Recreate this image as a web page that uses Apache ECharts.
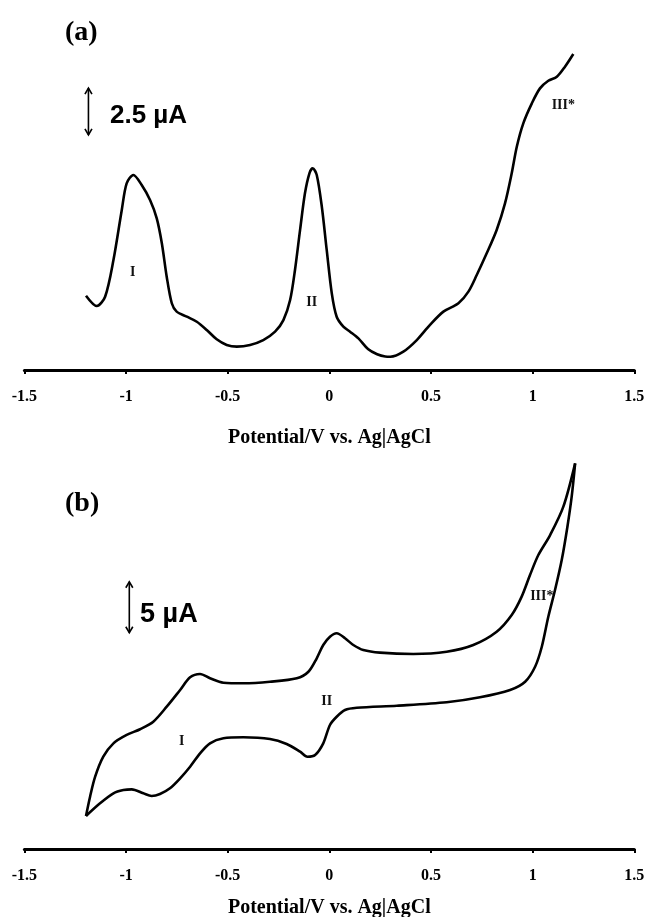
<!DOCTYPE html>
<html>
<head>
<meta charset="utf-8">
<script src="https://cdn.jsdelivr.net/npm/echarts@6/dist/echarts.min.js"></script>
<style>
  html, body { margin: 0; padding: 0; background: #fff; }
  #main { width: 646px; height: 917px; }
</style>
</head>
<body>
<div id="main"></div>
<script>
// Potential axis (V vs. Ag|AgCl)
const xTickValues = [-1.5, -1, -0.5, 0, 0.5, 1, 1.5];
const xTickLabels = ['-1.5', '-1', '-0.5', '0', '0.5', '1', '1.5'];

// (a) differential pulse voltammogram: potential (V) and current (µA above baseline)
const dpvPotential = [-1.197, -1.144, -1.103, -1.062, -1.021, -0.997, -0.964, -0.923, -0.882, -0.849,
  -0.824, -0.800, -0.775, -0.751, -0.701, -0.652, -0.603, -0.554, -0.505, -0.455,
  -0.390, -0.325, -0.267, -0.226, -0.193, -0.169, -0.144, -0.120, -0.098, -0.082,
  -0.062, -0.037, -0.013, 0.012, 0.036, 0.069, 0.102, 0.143, 0.190, 0.235,
  0.275, 0.300, 0.364, 0.430, 0.495, 0.561, 0.635, 0.684, 0.725, 0.774,
  0.823, 0.864, 0.897, 0.922, 0.954, 0.996, 1.036, 1.077, 1.119, 1.159, 1.200];
const dpvCurrent = [3.97, 3.42, 3.92, 5.88, 8.56, 9.98, 10.43, 9.89, 9.09, 8.11,
  6.78, 4.99, 3.57, 3.12, 2.85, 2.58, 2.14, 1.64, 1.34, 1.25,
  1.34, 1.60, 2.05, 2.67, 3.74, 5.35, 7.49, 9.45, 10.52, 10.79,
  10.43, 8.73, 6.42, 4.10, 2.85, 2.32, 2.05, 1.69, 1.12, 0.84,
  0.72, 0.71, 0.98, 1.60, 2.41, 3.12, 3.57, 4.19, 5.08, 6.24,
  7.49, 8.91, 10.52, 11.94, 13.19, 14.26, 15.06, 15.47, 15.68, 16.22, 16.90];

// (b) cyclic voltammogram: anodic sweep -1.2 V -> 1.2 V
const cvForwardPotential = [-1.197, -1.177, -1.152, -1.112, -1.062, -0.997, -0.931, -0.866, -0.800, -0.734,
  -0.685, -0.636, -0.587, -0.521, -0.423, -0.292, -0.160, -0.103, -0.062, -0.030,
  0.003, 0.036, 0.077, 0.118, 0.167, 0.249, 0.413, 0.577, 0.708, 0.823,
  0.897, 0.946, 0.987, 1.028, 1.086, 1.151, 1.209];
const cvForwardCurrent = [3.24, 5.13, 7.09, 9.05, 10.36, 11.18, 11.74, 12.48, 13.95, 15.59,
  16.83, 17.16, 16.74, 16.30, 16.25, 16.40, 16.74, 17.38, 18.70, 20.00,
  20.81, 21.15, 20.66, 20.00, 19.51, 19.25, 19.12, 19.34, 20.00, 21.30,
  22.94, 24.74, 26.86, 28.82, 30.78, 33.56, 37.81];
// return sweep 1.2 V -> -1.2 V
const cvReversePotential = [1.209, 1.192, 1.171, 1.143, 1.110, 1.077, 1.045, 1.012, 0.963, 0.889,
  0.741, 0.577, 0.332, 0.135, 0.077, 0.036, 0.003, -0.030, -0.070, -0.108,
  -0.144, -0.210, -0.292, -0.423, -0.521, -0.587, -0.636, -0.685, -0.734, -0.784,
  -0.833, -0.874, -0.915, -0.972, -1.013, -1.062, -1.128, -1.197];
const cvReverseCurrent = [37.81, 34.54, 31.60, 28.33, 25.39, 22.77, 19.83, 17.87, 16.40, 15.59,
  14.87, 14.38, 14.05, 13.85, 13.63, 12.97, 12.16, 10.36, 9.22, 9.05,
  9.54, 10.29, 10.78, 10.95, 10.85, 10.36, 9.38, 8.07, 6.93, 5.95,
  5.39, 5.20, 5.46, 5.85, 5.78, 5.46, 4.48, 3.24];

// Peak annotations [potential, current, text]
const peakLabelsA = [[-0.967, 5.24, 'I'], [-0.087, 3.60, 'II'], [1.151, 14.17, 'III*']];
const peakLabelsB = [[-0.726, 10.52, 'I'], [-0.013, 14.44, 'II'], [1.045, 24.80, 'III*']];

// Current scale bars [potential, lower current, upper current] and their captions
const scaleBarA = [-1.185, 12.57, 15.07];
const scaleBarB = [-0.984, 21.2, 26.2];
const scaleTextA = [-1.079, 13.60, '2.5 \u00B5A'];
const scaleTextB = [-0.931, 22.94, '5 \u00B5A'];

const zip = (xs, ys) => xs.map((x, i) => [x, ys[i]]);

const serif = 'Liberation Serif';
const sans = 'Liberation Sans';

function xAxisFor(gridIndex, nameGap) {
  return {
    gridIndex,
    type: 'value',
    min: -1.5, max: 1.5, interval: 0.5,
    name: 'Potential/V vs. Ag|AgCl',
    nameLocation: 'middle',
    nameGap,
    nameTextStyle: { fontFamily: serif, fontWeight: 'bold', fontSize: 20, color: '#000' },
    axisLine: { show: true, onZero: false, lineStyle: { color: '#000', width: 3 } },
    axisTick: { show: true, inside: false, length: 4, lineStyle: { color: '#000', width: 2 } },
    splitLine: { show: false },
    axisLabel: {
      margin: 19,
      fontFamily: serif, fontWeight: 'bold', fontSize: 16, color: '#000',
      showMinLabel: true, showMaxLabel: true,
      formatter: v => {
        const i = xTickValues.findIndex(t => Math.abs(t - v) < 1e-9);
        return i >= 0 ? xTickLabels[i] : '';
      }
    }
  };
}

function renderScaleBar(params, api) {
  const low = api.coord([api.value(0), api.value(1)]);
  const high = api.coord([api.value(0), api.value(2)]);
  const w = 3.5, h = 6;
  const st = { stroke: '#000', lineWidth: 1.6, fill: null };
  return {
    type: 'group',
    children: [
      { type: 'line', shape: { x1: high[0], y1: high[1], x2: low[0], y2: low[1] }, style: st },
      { type: 'polyline', shape: { points: [[high[0] - w, high[1] + h], [high[0], high[1]], [high[0] + w, high[1] + h]] }, style: st },
      { type: 'polyline', shape: { points: [[low[0] - w, low[1] - h], [low[0], low[1]], [low[0] + w, low[1] - h]] }, style: st }
    ]
  };
}

const curveStyle = { color: '#000', width: 2.6 };
const textMarks = { symbolSize: 0, silent: true, itemStyle: { opacity: 1 } };

const option = {
  backgroundColor: '#fff',
  animation: false,
  title: [
    { text: '(a)', left: 60, top: 14, textStyle: { fontFamily: serif, fontWeight: 'bold', fontSize: 28, color: '#000' } },
    { text: '(b)', left: 60, top: 485, textStyle: { fontFamily: serif, fontWeight: 'bold', fontSize: 28, color: '#000' } }
  ],
  grid: [
    { left: 24.4, width: 609.9, top: 40, height: 330, containLabel: false, outerBoundsMode: 'none' },
    { left: 24.4, width: 609.9, top: 460, height: 389, containLabel: false, outerBoundsMode: 'none' }
  ],
  xAxis: [xAxisFor(0, 58), xAxisFor(1, 49)],
  yAxis: [
    { gridIndex: 0, type: 'value', min: 0, max: 330 / 18.7, show: false },
    { gridIndex: 1, type: 'value', min: 0, max: 389 / 10.2, show: false }
  ],
  series: [
    {
      type: 'line', xAxisIndex: 0, yAxisIndex: 0,
      data: zip(dpvPotential, dpvCurrent),
      symbol: 'none', smooth: 0.3, lineStyle: curveStyle, silent: true
    },
    {
      type: 'line', xAxisIndex: 1, yAxisIndex: 1,
      data: zip(cvForwardPotential, cvForwardCurrent),
      symbol: 'none', smooth: 0.3, lineStyle: curveStyle, silent: true
    },
    {
      type: 'line', xAxisIndex: 1, yAxisIndex: 1,
      data: zip(cvReversePotential, cvReverseCurrent),
      symbol: 'none', smooth: 0.3, lineStyle: curveStyle, silent: true
    },
    Object.assign({
      type: 'scatter', xAxisIndex: 0, yAxisIndex: 0,
      data: peakLabelsA,
      label: { show: true, position: 'inside', formatter: p => p.value[2],
        fontFamily: serif, fontWeight: 'bold', fontSize: 14, color: '#111', textBorderWidth: 0 }
    }, textMarks),
    Object.assign({
      type: 'scatter', xAxisIndex: 1, yAxisIndex: 1,
      data: peakLabelsB,
      label: { show: true, position: 'inside', formatter: p => p.value[2],
        fontFamily: serif, fontWeight: 'bold', fontSize: 14, color: '#111', textBorderWidth: 0 }
    }, textMarks),
    {
      type: 'custom', xAxisIndex: 0, yAxisIndex: 0, silent: true,
      renderItem: renderScaleBar, data: [scaleBarA], encode: { x: 0, y: [1, 2] }
    },
    {
      type: 'custom', xAxisIndex: 1, yAxisIndex: 1, silent: true,
      renderItem: renderScaleBar, data: [scaleBarB], encode: { x: 0, y: [1, 2] }
    },
    Object.assign({
      type: 'scatter', xAxisIndex: 0, yAxisIndex: 0,
      data: [scaleTextA],
      label: { show: true, position: 'right', distance: 0, formatter: p => p.value[2],
        fontFamily: sans, fontWeight: 'bold', fontSize: 26, color: '#000', textBorderWidth: 0 }
    }, textMarks),
    Object.assign({
      type: 'scatter', xAxisIndex: 1, yAxisIndex: 1,
      data: [scaleTextB],
      label: { show: true, position: 'right', distance: 0, formatter: p => p.value[2],
        fontFamily: sans, fontWeight: 'bold', fontSize: 27, color: '#000', textBorderWidth: 0 }
    }, textMarks)
  ]
};

const chart = echarts.init(document.getElementById('main'), null, { renderer: 'canvas' });
chart.setOption(option);
</script>
</body>
</html>
